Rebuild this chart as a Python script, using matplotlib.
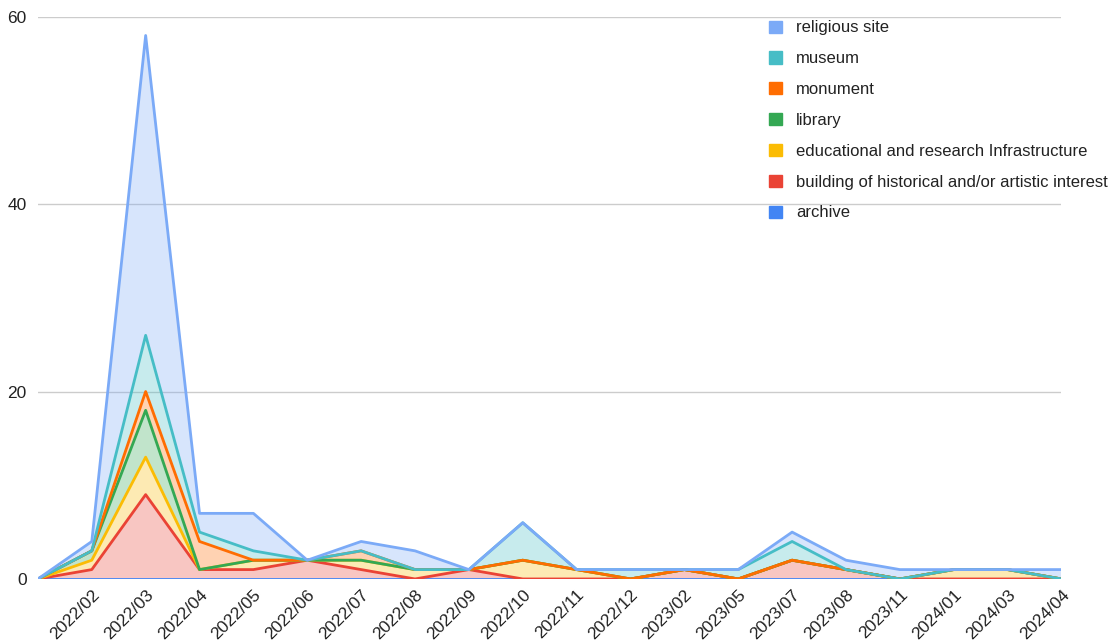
import numpy as np
import matplotlib
matplotlib.use('Agg')
import matplotlib.pyplot as plt

plt.rcParams['font.family'] = ['Liberation Sans', 'DejaVu Sans']

months = ["", "2022/02", "2022/03", "2022/04", "2022/05", "2022/06", "2022/07",
          "2022/08", "2022/09", "2022/10", "2022/11", "2022/12", "2023/02",
          "2023/05", "2023/07", "2023/08", "2023/11", "2024/01", "2024/03",
          "2024/04"]

# stacked bottom -> top
archive = [0] * 20
building = [0, 1, 9, 1, 1, 2, 1, 0, 1, 0, 0, 0, 1, 0, 2, 1, 0, 0, 0, 0]
educational = [0, 1, 4, 0, 1, 0, 1, 1, 0, 2, 1, 0, 0, 0, 0, 0, 0, 1, 1, 0]
library = [0, 1, 5, 0, 0, 0, 0, 0, 0, 0, 0, 0, 0, 0, 0, 0, 0, 0, 0, 0]
monument = [0, 0, 2, 3, 0, 0, 1, 0, 0, 0, 0, 0, 0, 0, 0, 0, 0, 0, 0, 0]
museum = [0, 0, 6, 1, 1, 0, 0, 0, 0, 4, 0, 1, 0, 1, 2, 0, 0, 0, 0, 0]
religious = [0, 1, 32, 2, 4, 0, 1, 2, 0, 0, 0, 0, 0, 0, 1, 1, 1, 0, 0, 1]

names = ["archive", "building of historical and/or artistic interest",
         "educational and research Infrastructure", "library", "monument",
         "museum", "religious site"]
series = [archive, building, educational, library, monument, museum, religious]
colors = ["#4285f4", "#ea4335", "#fbbc04", "#34a853", "#ff6d01", "#46bdc6", "#7baaf7"]

fig = plt.figure(figsize=(11.15, 6.44), dpi=100)
ax = fig.add_axes([0.034, 0.101, 0.918, 0.873])

x = np.arange(len(months))
ax.stackplot(x, *series, colors=colors, alpha=0.3, linewidth=0)

cum = np.cumsum(np.array(series), axis=0)
handles = []
for i in range(len(series)):
    ax.plot(x, cum[i], color=colors[i], lw=2, solid_joinstyle='round', zorder=3)
    handles.append(plt.Rectangle((0, 0), 1, 1, color=colors[i]))

ax.set_xlim(0, len(months) - 1)
ax.set_ylim(0, 60)
ax.set_yticks([0, 20, 40, 60])
ax.grid(axis='y', color='#cccccc', lw=1)
ax.set_axisbelow(True)
for s in ax.spines.values():
    s.set_visible(False)
ax.tick_params(length=0, labelsize=12.5, labelcolor='#222222')
ax.tick_params(axis='y', pad=8)
ax.set_xticks(x)
ax.set_xticklabels(months, rotation=45, ha='right', rotation_mode='anchor')
ax.tick_params(axis='x', pad=6)

leg = ax.legend(handles[::-1], names[::-1], loc='upper left',
                bbox_to_anchor=(0.7, 1.02), frameon=False, fontsize=12,
                handlelength=0.75, handleheight=0.75, handletextpad=0.85,
                labelspacing=0.95)
for t in leg.get_texts():
    t.set_color('#222222')

plt.savefig('out.png', dpi=100)
